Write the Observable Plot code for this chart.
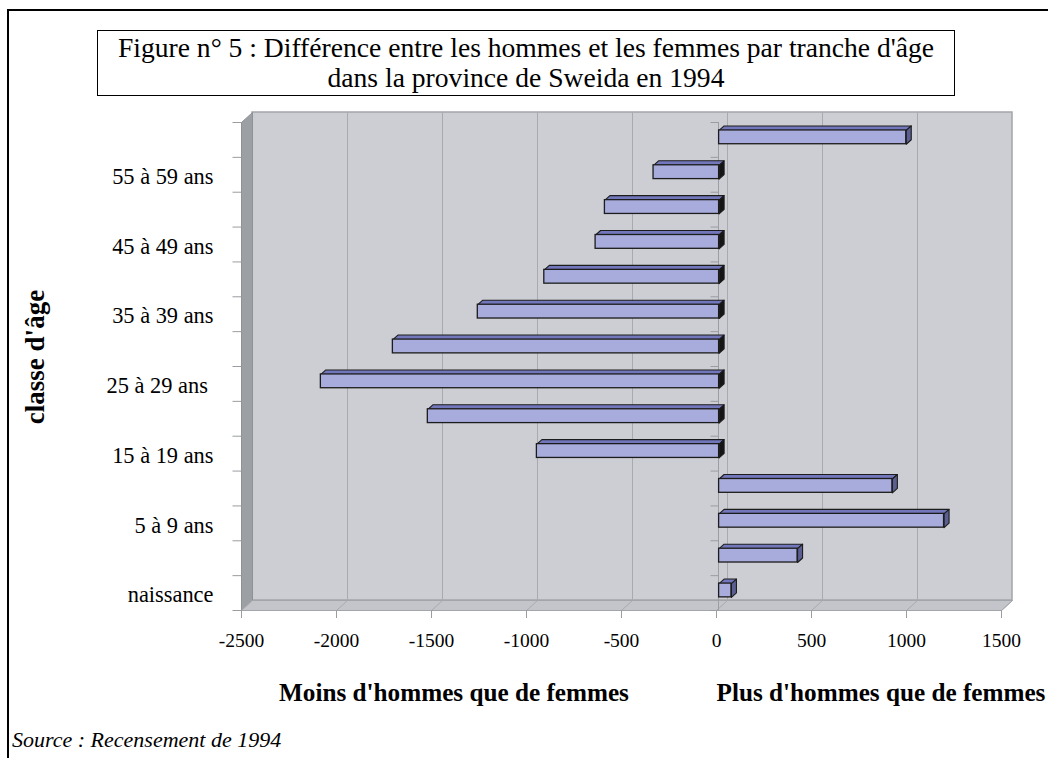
<!DOCTYPE html>
<html><head><meta charset="utf-8">
<script src="https://cdn.jsdelivr.net/npm/d3@7"></script>
<script src="https://cdn.jsdelivr.net/npm/@observablehq/plot@0.6"></script>
<style>
body{margin:0;background:#fff;}
#wrap{position:relative;width:1048px;height:758px;overflow:hidden;font-family:"Liberation Serif","Times New Roman",serif;color:#000;background:#fff}
#frame{position:absolute;left:7px;top:9px;width:1200px;height:900px;border-left:2.5px solid #000;border-top:2.5px solid #000}
#title{position:absolute;left:97px;top:30px;width:858px;height:66px;box-sizing:border-box;border:1.5px solid #000;text-align:center;font-size:27.6px;line-height:30px;padding-top:2px;background:#fff}
.lab{position:absolute;white-space:nowrap;transform:translate(-50%,-50%)}
#chart{position:absolute;left:0;top:0}
svg text{white-space:pre}
</style></head>
<body><div id="wrap">
<div id="frame"></div>
<div id="chart"></div>
<div id="title">Figure n° 5 : Différence entre les hommes et les femmes par tranche d'âge<br>dans la province de Sweida en 1994</div>
<div class="lab" style="left:35px;top:357px;transform:translate(-50%,-50%) rotate(-90deg);font-weight:bold;font-size:27px">classe d'âge</div>
<div class="lab" style="left:454px;top:693px;font-weight:bold;font-size:25.2px">Moins d'hommes que de femmes</div>
<div class="lab" style="left:881px;top:693px;font-weight:bold;font-size:25.2px">Plus d'hommes que de femmes</div>
<div class="lab" style="left:12px;top:740px;transform:translate(0,-50%);font-style:italic;font-size:22px">Source : Recensement de 1994</div>
</div>
<script>
const categories = ["naissance","1 à 4 ans","5 à 9 ans","10 à 14 ans","15 à 19 ans","20 à 24 ans","25 à 29 ans ","30 à 34 ans","35 à 39 ans","40 à 44 ans","45 à 49 ans","50 à 54 ans","55 à 59 ans","60 ans et plus"];
const values = [65, 413, 1184, 912, -959, -1533, -2096, -1717, -1270, -920, -650, -601, -345, 985];
const tickLabels = ["naissance","5 à 9 ans","15 à 19 ans","25 à 29 ans ","35 à 39 ans","45 à 49 ans","55 à 59 ans"];
const xTicks = [-2500,-2000,-1500,-1000,-500,0,500,1000,1500];

const W = 1048, H = 660, mL = 241, mR = 47, mT = 122, mB = 50;
const n = categories.length;
const x0 = xTicks[0], x1 = xTicks[xTicks.length - 1];
const kx = (x1 - x0) / (W - mL - mR);   // data units per px
const ky = n / (H - mT - mB);
const DX = 11 * kx, DY = 10 * ky;       // wall depth
const BX = 5 * kx, BY = 4.5 * ky;       // bar depth
const HH = 6.9 * ky;                    // half bar height

const leftWall = [{x:x0,y:0},{x:x0,y:n},{x:x0+DX,y:n+DY},{x:x0+DX,y:DY}];
const floor = [{x:x0,y:0},{x:x1,y:0},{x:x1+DX,y:DY},{x:x0+DX,y:DY}];

const bars = categories.map((c, i) => ({c, v: values[i], yc: i + 0.5}));
const topFaces = bars.flatMap(b => {
  const yt = b.yc + HH;
  return [{k:b.c,x:0,y:yt},{k:b.c,x:b.v,y:yt},{k:b.c,x:b.v+BX,y:yt+BY},{k:b.c,x:BX,y:yt+BY}];
});
const sideFaces = bars.flatMap(b => {
  const yt = b.yc + HH, yb = b.yc - HH, xr = Math.max(b.v, 0), s = b.v >= 0 ? "pos" : "neg";
  return [{k:b.c,s,x:xr,y:yb},{k:b.c,s,x:xr,y:yt},{k:b.c,s,x:xr+BX,y:yt+BY},{k:b.c,s,x:xr+BX,y:yb+BY}];
});
const ints = d3.range(n + 1);
const gridCol = "#a8aaae";
const barOff = {dx: 2.6, dy: -2.6};

const chart = Plot.plot({
  width: W, height: H,
  marginLeft: mL, marginRight: mR, marginTop: mT, marginBottom: mB,
  x: {domain: [x0, x1], axis: null},
  y: {domain: [0, n], axis: null},
  style: {fontFamily: "'Liberation Serif', 'Times New Roman', serif", background: "transparent", overflow: "visible", color: "#000"},
  marks: [
    Plot.rect([0], {x1: x0 + DX, x2: x1 + DX, y1: DY, y2: n + DY, fill: "#cdced3", stroke: "#a2a5a9", strokeWidth: 1.5}),
    Plot.ruleX(xTicks.slice(1, -1), {x: d => d + DX, y1: DY, y2: n + DY, stroke: gridCol}),
    Plot.line(leftWall, {x: "x", y: "y", fill: "#9ca0a5", stroke: "#8e9297", strokeWidth: 1, curve: "linear-closed"}),
    Plot.line(floor, {x: "x", y: "y", fill: "#c4c5ca", stroke: "#a2a5a9", strokeWidth: 1, curve: "linear-closed"}),
    Plot.link(xTicks, {x1: d => d, y1: 0, x2: d => d + DX, y2: DY, stroke: gridCol}),
    Plot.ruleX(xTicks, {y1: 0, y2: -8 * ky, stroke: "#9a9da1"}),
    Plot.link(ints, {x1: x0, x2: x0 - 9 * kx, y1: d => d, y2: d => d, stroke: "#9a9da1"}),
    Plot.ruleX([0], {y1: 0, y2: n, stroke: "#9a9da1", dx: 2}),
    Plot.link(ints, {x1: 0, x2: -8 * kx, y1: d => d, y2: d => d, stroke: "#9a9da1", dx: 2}),
    // bars (3D)
    Plot.line(topFaces, {x: "x", y: "y", z: "k", fill: "#7276bb", stroke: "#1c1c1c", strokeWidth: 1.1, curve: "linear-closed", ...barOff}),
    Plot.line(sideFaces, {x: "x", y: "y", z: "k", fill: d => d.s === "pos" ? "#5a5e90" : "#151515", stroke: "#1c1c1c", strokeWidth: 1.1, curve: "linear-closed", ...barOff}),
    Plot.rect(bars, {x1: 0, x2: "v", y1: d => d.yc - HH, y2: d => d.yc + HH, fill: "#a8acdc", stroke: "#1c1c1c", strokeWidth: 1.3, ...barOff}),
    // labels
    Plot.text(xTicks, {x: d => d, y: 0, dy: 30, text: d => String(d), fontSize: 19.5, fill: "#000"}),
    Plot.text(tickLabels, {x: x0, y: d => categories.indexOf(d) + 0.5, text: d => d, dx: -28, dy: 2, textAnchor: "end", fontSize: 22.4, fill: "#000"})
  ]
});
document.getElementById("chart").appendChild(chart);
</script>
</body></html>
